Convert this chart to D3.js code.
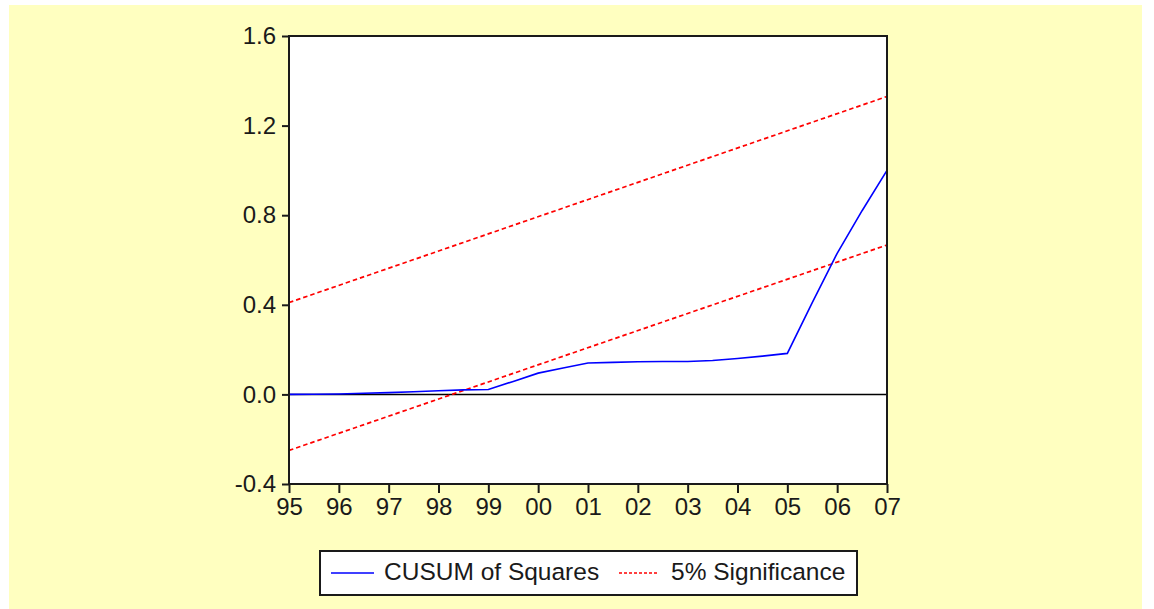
<!DOCTYPE html>
<html>
<head>
<meta charset="utf-8">
<script src="https://cdn.jsdelivr.net/npm/d3@7"></script>
<style>
  body { margin: 0; background: #fff; }
  svg text { font-family: "Liberation Sans", Arial, sans-serif; fill: #1a1a1a; }
</style>
</head>
<body>
<svg id="chart" width="1154" height="609"></svg>
<script>
// half-year periods, 1995 .. 2007
var periods = [1995, 1995.5, 1996, 1996.5, 1997, 1997.5, 1998, 1998.5, 1999, 1999.5,
               2000, 2000.5, 2001, 2001.5, 2002, 2002.5, 2003, 2003.5, 2004, 2004.5,
               2005, 2005.5, 2006, 2006.5, 2007];
var cusumSq = [0.000, 0.001, 0.002, 0.005, 0.008, 0.012, 0.016, 0.020, 0.022, 0.058,
               0.095, 0.118, 0.140, 0.143, 0.146, 0.147, 0.147, 0.151, 0.160, 0.171,
               0.183, 0.410, 0.630, 0.820, 1.000];
// 5% significance bounds (start 95, end 07)
var boundYears = [1995, 2007];
var upperBound = [0.41, 1.33];
var lowerBound = [-0.25, 0.667];
var xTicks = [1995, 1996, 1997, 1998, 1999, 2000, 2001, 2002, 2003, 2004, 2005, 2006, 2007];
var xTickLabels = ["95", "96", "97", "98", "99", "00", "01", "02", "03", "04", "05", "06", "07"];
var yTicks = [-0.4, 0.0, 0.4, 0.8, 1.2, 1.6];
var yTickLabels = ["-0.4", "0.0", "0.4", "0.8", "1.2", "1.6"];

var margin = { top: 36, left: 289, right: 267, bottom: 125 };
var width = 1154 - margin.left - margin.right;
var height = 609 - margin.top - margin.bottom;

var svg = d3.select("#chart");

// yellow backdrop
svg.append("rect").attr("x", 9).attr("y", 5).attr("width", 1133).attr("height", 604).attr("fill", "#ffffc0");

var g = svg.append("g").attr("transform", "translate(" + margin.left + "," + margin.top + ")");

var x = d3.scaleLinear().domain([1995, 2007]).range([0, width]);
var y = d3.scaleLinear().domain([-0.4, 1.6]).range([height, 0]);

g.append("rect").attr("width", width).attr("height", height).attr("fill", "#fff");

// zero line
g.append("line")
  .attr("x1", 0).attr("x2", width)
  .attr("y1", y(0)).attr("y2", y(0))
  .attr("stroke", "#000").attr("stroke-width", 1.5);

var line = d3.line().x(function (d) { return x(d[0]); }).y(function (d) { return y(d[1]); });

// significance bounds
[upperBound, lowerBound].forEach(function (b) {
  g.append("path")
    .datum(boundYears.map(function (yr, i) { return [yr, b[i]]; }))
    .attr("d", line)
    .attr("fill", "none")
    .attr("stroke", "#ff0000")
    .attr("stroke-width", 1.7)
    .attr("stroke-dasharray", "4.5,3");
});

// CUSUM of squares
g.append("path")
  .datum(periods.map(function (p, i) { return [p, cusumSq[i]]; }))
  .attr("d", line)
  .attr("fill", "none")
  .attr("stroke", "#0000ff")
  .attr("stroke-width", 1.6);

// frame
g.append("rect").attr("width", width).attr("height", height)
  .attr("fill", "none").attr("stroke", "#1a1a1a").attr("stroke-width", 2);

// axes
var yAxis = g.append("g")
  .call(d3.axisLeft(y).tickValues(yTicks).tickSize(7).tickPadding(6)
    .tickFormat(function (d, i) { return yTickLabels[i]; }));
var xAxis = g.append("g")
  .attr("transform", "translate(0," + height + ")")
  .call(d3.axisBottom(x).tickValues(xTicks).tickSize(9).tickPadding(5)
    .tickFormat(function (d, i) { return xTickLabels[i]; }));

[yAxis, xAxis].forEach(function (a) {
  a.select(".domain").remove();
  a.selectAll(".tick line").attr("stroke", "#1a1a1a").attr("stroke-width", 2);
  a.selectAll("text").style("font-size", "24px").attr("fill", "#1a1a1a");
});
xAxis.selectAll("text").attr("dy", "0.7em");

// legend
var legend = svg.append("g");
legend.append("rect").attr("x", 320).attr("y", 551).attr("width", 537).attr("height", 44)
  .attr("fill", "#fff").attr("stroke", "#1a1a1a").attr("stroke-width", 2);
legend.append("line").attr("x1", 331).attr("x2", 374).attr("y1", 573).attr("y2", 573)
  .attr("stroke", "#0000ff").attr("stroke-width", 1.5);
legend.append("text").attr("x", 384).attr("y", 574).attr("dominant-baseline", "middle")
  .style("font-size", "24.5px").text("CUSUM of Squares");
legend.append("line").attr("x1", 619).attr("x2", 658).attr("y1", 573).attr("y2", 573)
  .attr("stroke", "#ff0000").attr("stroke-width", 1.5).attr("stroke-dasharray", "3,2");
legend.append("text").attr("x", 671).attr("y", 574).attr("dominant-baseline", "middle")
  .style("font-size", "24.5px").text("5% Significance");
</script>
</body>
</html>
